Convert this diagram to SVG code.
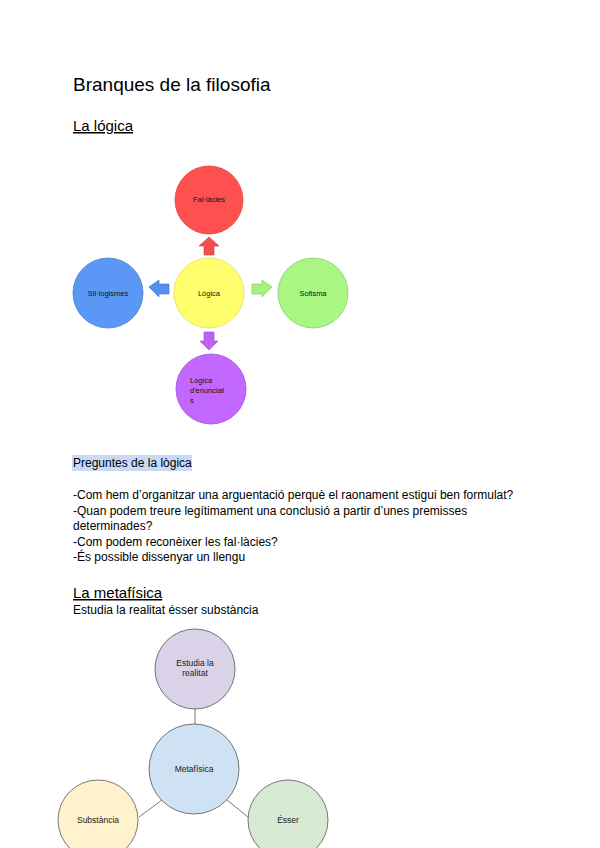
<svg xmlns="http://www.w3.org/2000/svg" width="600" height="848" viewBox="0 0 600 848">
<style>
text{font-family:"Liberation Sans",Arial,sans-serif;fill:#000}
.h1{font-size:19px}
.h2{font-size:15px;text-decoration:underline}
.p{font-size:12px}
.n{font-size:7.5px;text-anchor:middle;fill:#111}
.m{font-size:8.5px;text-anchor:middle;fill:#222}
.mc{stroke:#555;stroke-width:0.8}
.ln{stroke:#555;stroke-width:0.8;fill:none}
</style>
<rect width="600" height="848" fill="#fff"/>
<text class="h1" x="73" y="91">Branques de la filosofia</text>
<text class="h2" x="73" y="131">La lógica</text>

<g id="connectors-logica">
<polygon points="209,237 219,246 214,246 214,255 204,255 204,246 199,246" fill="#f24c4c" stroke="#cc3a3a" stroke-width="0.6"/>
<polygon points="149,290 159,283 159,287 169,287 169,297 159,297 159,300" fill="#5590ee" stroke="#3d70c8" stroke-width="0.6" transform="translate(0,-3)"/>
<polygon points="272,290 262,283 262,287 252,287 252,297 262,297 262,300" fill="#a8f07f" stroke="#7cc85a" stroke-width="0.6" transform="translate(0,-3)"/>
<polygon points="209,350 218,341 214,341 214,332 204,332 204,341 200,341" fill="#bd62f2" stroke="#9a48c8" stroke-width="0.6"/>
</g>

<g id="fallacies">
<circle cx="209" cy="200" r="34" fill="#ff5050" stroke="#e04040" stroke-width="0.8"/>
<text class="n" x="209" y="202">Fal·làcies</text>
</g>
<g id="logica">
<circle cx="209" cy="293" r="35" fill="#ffff6e" stroke="#e6d95a" stroke-width="0.8"/>
<text class="n" x="209" y="296">Lògica</text>
</g>
<g id="sillogismes">
<circle cx="108" cy="293" r="35" fill="#5b97f4" stroke="#4a7fd0" stroke-width="0.8"/>
<text class="n" x="108" y="296">Sil·logismes</text>
</g>
<g id="sofisma">
<circle cx="313" cy="293" r="35" fill="#a9f683" stroke="#8ccc6a" stroke-width="0.8"/>
<text class="n" x="313" y="296">Sofisma</text>
</g>
<g id="enunciats">
<circle cx="211" cy="389" r="35" fill="#c267ff" stroke="#a04fd8" stroke-width="0.8"/>
<text style="font-size:7.5px;fill:#111" x="190" y="383">Lògica</text>
<text style="font-size:7.5px;fill:#111" x="190" y="393">d'enunciat</text>
<text style="font-size:7.5px;fill:#111" x="190" y="403">s</text>
</g>

<rect x="72" y="455" width="120" height="16" fill="#c9daf8"/>
<text class="p" x="73" y="467">Preguntes de la lògica</text>
<text class="p" x="73" y="499">-Com hem d’organitzar una arguentació perquè el raonament estigui ben formulat?</text>
<text class="p" x="73" y="515">-Quan podem treure legítimament una conclusió a partir d’unes premisses</text>
<text class="p" x="73" y="530">determinades?</text>
<text class="p" x="73" y="546">-Com podem reconèixer les fal·làcies?</text>
<text class="p" x="73" y="561">-És possible dissenyar un llengu</text>

<text class="h2" x="73" y="598">La metafísica</text>
<text class="p" x="73" y="614">Estudia la realitat ésser substància</text>

<g id="connectors-metafisica">
<line class="ln" x1="195" y1="708" x2="195" y2="724"/>
<line class="ln" x1="162" y1="800" x2="139" y2="817"/>
<line class="ln" x1="227" y1="800" x2="248" y2="817"/>
</g>
<g id="estudia">
<circle class="mc" cx="195" cy="669" r="40" fill="#d9d2e9"/>
<text class="m" x="195" y="666">Estudia la</text>
<text class="m" x="195" y="676">realitat</text>
</g>
<g id="metafisica">
<circle class="mc" cx="194" cy="769" r="45" fill="#cfe2f3"/>
<text class="m" x="194" y="772">Metafísica</text>
</g>
<g id="substancia">
<circle class="mc" cx="98" cy="820" r="40" fill="#fff2cc"/>
<text class="m" x="98" y="823">Substància</text>
</g>
<g id="esser">
<circle class="mc" cx="288" cy="820" r="40" fill="#d9ead3"/>
<text class="m" x="288" y="823">Ésser</text>
</g>
</svg>
